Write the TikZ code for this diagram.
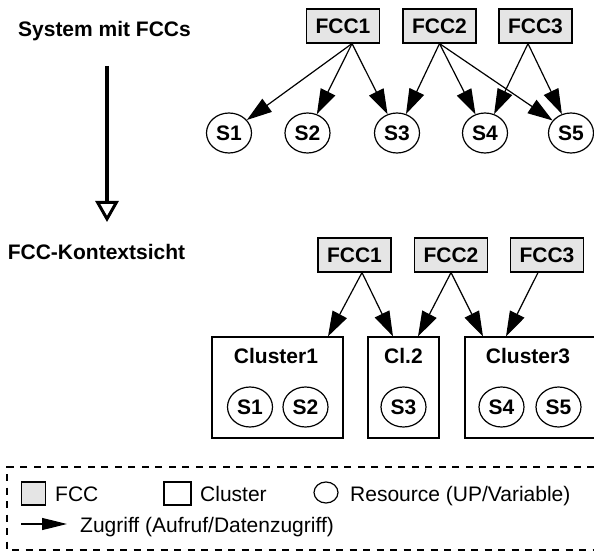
\documentclass[tikz,border=0pt]{standalone}
\usepackage{fontspec}
\setmainfont{Liberation Sans}
\usetikzlibrary{arrows.meta,shapes.geometric}
\begin{document}
\begin{tikzpicture}[x=1pt,y=-1pt,
  lbl/.style={font=\fontsize{21}{23}\selectfont\bfseries},
  fcc/.style={draw, fill=gray!20, line width=1.2pt, minimum width=73pt, minimum height=34pt, inner sep=0pt, lbl},
  res/.style={ellipse, draw, line width=1.2pt, minimum width=45pt, minimum height=40pt, inner sep=0pt, lbl},
  clu/.style={draw, line width=1.2pt, minimum height=101pt, inner sep=0pt},
  acc/.style={line width=1.2pt, -{Triangle[length=25pt,width=16pt]}},
  leg/.style={font=\fontsize{21}{24}\selectfont, anchor=base west, inner sep=0pt}
]
\useasboundingbox (0,0) rectangle (594,553);

% titles and transformation arrow
\node[lbl, anchor=base, inner sep=0pt] (sys) at (104.5,37) {System mit FCCs};
\node[lbl, anchor=base, inner sep=0pt] (kon) at (96.5,260) {FCC-Kontextsicht};
\coordinate (v1) at (107,66);
\coordinate (v2) at (107,222);
\draw[line width=3.3pt, -{Triangle[open,length=21pt,width=23pt,line width=3pt]}] (v1) -- (v2);

% top: system with FCCs
\node[fcc] (a1) at (343,26) {FCC1};
\node[fcc] (a2) at (439.5,26) {FCC2};
\node[fcc] (a3) at (535.5,26) {FCC3};
\node[res] (t1) at (229,133) {S1};
\node[res] (t2) at (307.5,133) {S2};
\node[res] (t3) at (397,133) {S3};
\node[res] (t4) at (485,133) {S4};
\node[res] (t5) at (571,133) {S5};
\draw[acc] ([xshift=9pt]a1.south) -- (t1);
\draw[acc] ([xshift=9pt]a1.south) -- (t2);
\draw[acc] ([xshift=9pt]a1.south) -- (t3);
\draw[acc] (a2.south) -- (t3);
\draw[acc] (a2.south) -- (t4);
\draw[acc] (a2.south) -- (t5);
\draw[acc] ([xshift=-7.5pt]a3.south) -- (t4);
\draw[acc] ([xshift=-7.5pt]a3.south) -- (t5);

% bottom: FCC context view
\node[fcc] (b1) at (354.5,255) {FCC1};
\node[fcc] (b2) at (451,255) {FCC2};
\node[fcc] (b3) at (547,255) {FCC3};
\node[clu, minimum width=131pt] (c1) at (277.5,387.5) {};
\node[clu, minimum width=71pt] (c2) at (403.5,387.5) {};
\node[clu, minimum width=130pt] (c3) at (530,387.5) {};
\node[lbl, anchor=base, inner sep=0pt] (c1l) at (276,363) {Cluster1};
\node[lbl, anchor=base, inner sep=0pt] (c2l) at (403.5,363) {Cl.2};
\node[lbl, anchor=base, inner sep=0pt] (c3l) at (528,363) {Cluster3};
\node[res] (u1) at (250,407) {S1};
\node[res] (u2) at (305.5,407) {S2};
\node[res] (u3) at (403.5,407) {S3};
\node[res] (u4) at (501.5,407) {S4};
\node[res] (u5) at (558.5,407) {S5};
\draw[acc] ([xshift=7.5pt]b1.south) -- ([xshift=50.5pt]c1.north);
\draw[acc] ([xshift=7.5pt]b1.south) -- ([xshift=-10.5pt]c2.north);
\draw[acc] (b2.south) -- ([xshift=14.5pt]c2.north);
\draw[acc] (b2.south) -- ([xshift=-47pt]c3.north);
\draw[acc] ([xshift=-9pt]b3.south) -- ([xshift=-24pt]c3.north);

% legend
\draw[line width=1.1pt, dash pattern=on 7pt off 6.5pt] (594,467) -- (7,467) -- (7,550) -- (594,550);
\node[draw, fill=gray!20, line width=1.2pt, minimum width=24pt, minimum height=23pt, inner sep=0pt] (lf) at (33.5,493.5) {};
\node[leg] (lft) at (55,501) {FCC};
\node[draw, line width=1.2pt, minimum width=27pt, minimum height=23pt, inner sep=0pt] (lc) at (177.5,493.5) {};
\node[leg] (lct) at (200,501) {Cluster};
\node[ellipse, draw, line width=1.2pt, minimum width=24pt, minimum height=21pt, inner sep=0pt] (lr) at (326,492.5) {};
\node[leg] (lrt) at (350,501) {Resource (UP/Variable)};
\coordinate (la1) at (21,524);
\coordinate (la2) at (67,524);
\draw[line width=1.2pt, -{Triangle[length=25pt,width=12pt]}] (la1) -- (la2);
\node[leg] (lzt) at (80,532) {Zugriff (Aufruf/Datenzugriff)};
\end{tikzpicture}
\end{document}
